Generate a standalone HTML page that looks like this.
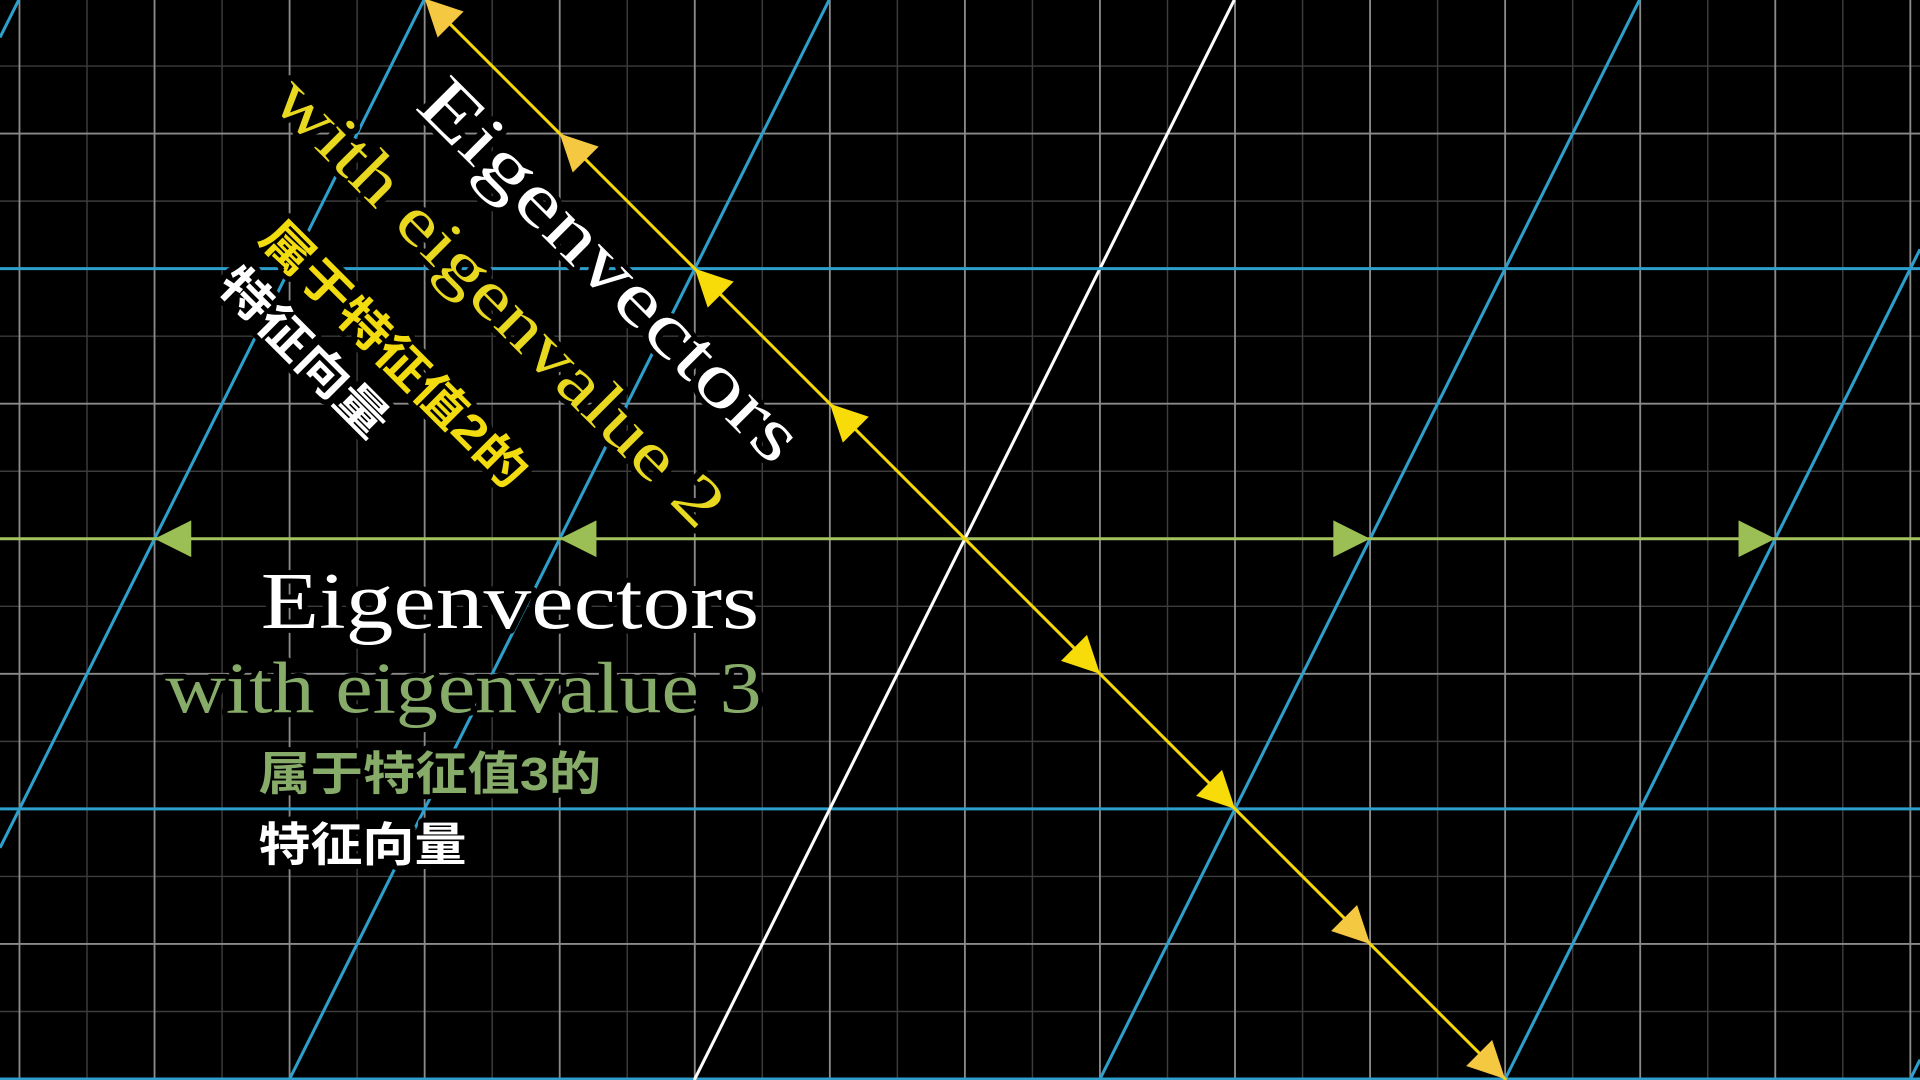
<!DOCTYPE html>
<html><head><meta charset="utf-8"><style>
html,body{margin:0;padding:0;background:#000;width:1920px;height:1080px;overflow:hidden}
svg{display:block;overflow:hidden;position:absolute;left:0;top:0}
.ser{font-family:"Liberation Serif",serif}
.cjk{font-family:"Liberation Sans","Noto Sans CJK SC",sans-serif;font-weight:bold}
.bg{paint-order:stroke;stroke:#000;stroke-width:8;stroke-linejoin:round}
</style></head><body>
<svg id="chart" width="1920" height="1080" viewBox="0 0 1568 882" xmlns="http://www.w3.org/2000/svg">
<rect width="1568" height="882" fill="#000"/>
<g id="grid"></g>
<g id="tgrid"></g>
<g id="eig"></g>
<g id="labels">
<text class="ser bg" fill="#fff" font-size="62" textLength="415" lengthAdjust="spacingAndGlyphs" transform="translate(338,88) rotate(45)">Eigenvectors</text>
<text class="ser bg" fill="#e8d820" font-size="56" textLength="495" lengthAdjust="spacingAndGlyphs" transform="translate(220,84) rotate(45)">with eigenvalue 2</text>
<text class="cjk bg" fill="#f2dc10" font-size="38" textLength="290" lengthAdjust="spacingAndGlyphs" transform="translate(210,196) rotate(45)">属于特征值2的</text>
<text class="cjk bg" fill="#fff" font-size="38" textLength="178" lengthAdjust="spacingAndGlyphs" transform="translate(176,234) rotate(45)">特征向量</text>
<text class="ser bg" fill="#fff" font-size="66" textLength="407" lengthAdjust="spacingAndGlyphs" x="213" y="513">Eigenvectors</text>
<text class="ser bg" fill="#87ab68" font-size="60" textLength="487" lengthAdjust="spacingAndGlyphs" x="135" y="582">with eigenvalue 3</text>
<text class="cjk bg" fill="#87ab68" font-size="38" textLength="280" lengthAdjust="spacingAndGlyphs" x="211" y="645">属于特征值3的</text>
<text class="cjk bg" fill="#fff" font-size="38" textLength="170" lengthAdjust="spacingAndGlyphs" x="211" y="703">特征向量</text>
</g>
</svg>
<script>
// data
const gridUnits=[-8,-7,-6,-5,-4,-3,-2,-1,0,1,2,3,4,5,6,7,8];
const matrixI=[3,0];
const matrixJ=[1,2];
const eig2Dir=[-1,1];
const eig2Steps=[-4,-3,-2,-1,1,2,3,4];
const eig3Dir=[1,0];
const eig3Steps=[-2,-1,1,2];

const NS="http://www.w3.org/2000/svg";
const W=1568,H=882;
const ox=788, oy=440, u=110.3;
const sx=x=>ox+x*u, sy=y=>oy-y*u;
function mk(tag,attrs,parent){const e=document.createElementNS(NS,tag);for(const k in attrs)e.setAttribute(k,attrs[k]);parent.appendChild(e);return e;}
function clip(x1,y1,x2,y2){
  let t0=0,t1=1;const dx=x2-x1,dy=y2-y1;
  const p=[-dx,dx,-dy,dy],q=[x1,W-x1,y1,H-y1];
  for(let i=0;i<4;i++){
    if(p[i]===0){if(q[i]<0)return null;}
    else{const r=q[i]/p[i];if(p[i]<0){if(r>t1)return null;if(r>t0)t0=r;}else{if(r<t0)return null;if(r<t1)t1=r;}}
  }
  return {x1:x1+t0*dx,y1:y1+t0*dy,x2:x1+t1*dx,y2:y1+t1*dy};
}
function line(x1,y1,x2,y2,stroke,w,parent){
  const c=clip(x1,y1,x2,y2);if(!c)return null;
  return mk('line',{x1:c.x1,y1:c.y1,x2:c.x2,y2:c.y2,stroke:stroke,'stroke-width':w},parent);
}
const grid=document.getElementById('grid'), tg=document.getElementById('tgrid'), eg=document.getElementById('eig');
gridUnits.forEach(k=>{
  let e=line(sx(k+0.5),0,sx(k+0.5),H,'#3c3c3c',1.2,grid);
  if(e){
  }
  e=line(0,sy(k+0.5),W,sy(k+0.5),'#3c3c3c',1.2,grid);
  if(e){
  }
});
gridUnits.forEach(k=>{
  let e=line(sx(k),0,sx(k),H,'#8a8a8a',1.5,grid);
  if(e){
  }
  e=line(0,sy(k),W,sy(k),'#8a8a8a',1.5,grid);
  if(e){
  }
});
gridUnits.forEach(k=>{
  const px=k*matrixI[0], py=k*matrixI[1];
  const L=10;
  let e=line(sx(px-L*matrixJ[0]),sy(py-L*matrixJ[1]),sx(px+L*matrixJ[0]),sy(py+L*matrixJ[1]),k===0?'#fff':'#2e9fcc',2.5,tg);
  if(e){
  }
  const qx=k*matrixJ[0], qy=k*matrixJ[1];
  if(k!==0){
    e=line(sx(qx-L*matrixI[0]),sy(qy-L*matrixI[1]),sx(qx+L*matrixI[0]),sy(qy+L*matrixI[1]),'#2e9fcc',2.5,tg);
    if(e){
    }
  }
});
function span(dir,color,name){
  const L=12;
  const e=line(sx(-L*dir[0]),sy(-L*dir[1]),sx(L*dir[0]),sy(L*dir[1]),color,2.5,eg);
  if(e){
  }
}
function arrow(tx,ty,ang,color,name){
  const l=30,w=15;
  const c=Math.cos(ang),s=Math.sin(ang);
  const bx=tx-l*c,by=ty-l*s;
  const pts=`${tx},${ty} ${bx-w*s},${by+w*c} ${bx+w*s},${by-w*c}`;
  const e=mk('polygon',{points:pts,fill:color},eg);
  
  
}
span(eig3Dir,'#a6c25e','eigenvalue-3-span');
span(eig2Dir,'#f5d60a','eigenvalue-2-span');
eig3Steps.forEach(k=>{
  const x=k*eig3Dir[0]*matrixI[0], y=k*eig3Dir[1];
  const tx=sx(x),ty=sy(y);
  const ang=Math.atan2(ty-oy,tx-ox);
  arrow(tx,ty,ang,'#9bbf55','eigenvalue-3-arrow');
});
eig2Steps.forEach(k=>{
  const tx=sx(k*eig2Dir[0]),ty=sy(k*eig2Dir[1]);
  const ang=Math.atan2(ty-oy,tx-ox);
  arrow(tx,ty,ang,Math.abs(k)>=3?'#f5c842':'#f8dc0a','eigenvalue-2-arrow');
});
</script>
</body></html>
